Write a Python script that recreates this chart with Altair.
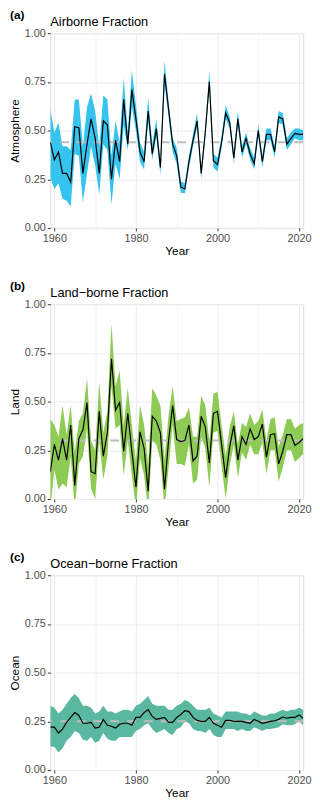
import altair as alt
import pandas as pd

years = list(range(1959, 2022))

air_mean = [0.44, 0.35, 0.39, 0.28, 0.28, 0.235, 0.52, 0.515, 0.28, 0.43,
            0.56, 0.46, 0.28, 0.55, 0.53, 0.25, 0.45, 0.34, 0.66, 0.43,
            0.71, 0.56, 0.39, 0.34, 0.60, 0.38, 0.51, 0.31, 0.79, 0.61,
            0.43, 0.37, 0.21, 0.20, 0.34, 0.45, 0.55, 0.28, 0.49, 0.75,
            0.345, 0.325, 0.44, 0.59, 0.54, 0.36, 0.56, 0.39, 0.46, 0.38,
            0.33, 0.50, 0.34, 0.48, 0.48, 0.39, 0.57, 0.56, 0.43, 0.46,
            0.485, 0.48, 0.48]
air_hi = [0.61, 0.49, 0.54, 0.42, 0.42, 0.40, 0.66, 0.66, 0.42, 0.62,
          0.69, 0.60, 0.42, 0.68, 0.66, 0.37, 0.55, 0.44, 0.77, 0.49,
          0.81, 0.63, 0.44, 0.39, 0.67, 0.43, 0.56, 0.34, 0.86, 0.65,
          0.46, 0.41, 0.24, 0.23, 0.37, 0.48, 0.59, 0.31, 0.52, 0.81,
          0.38, 0.36, 0.47, 0.63, 0.57, 0.39, 0.60, 0.42, 0.49, 0.41,
          0.36, 0.53, 0.37, 0.51, 0.51, 0.42, 0.60, 0.59, 0.46, 0.49,
          0.51, 0.51, 0.50]
air_lo = [0.26, 0.20, 0.23, 0.15, 0.14, 0.11, 0.38, 0.37, 0.13, 0.28,
          0.42, 0.32, 0.17, 0.43, 0.40, 0.12, 0.33, 0.25, 0.53, 0.40,
          0.62, 0.50, 0.34, 0.30, 0.55, 0.35, 0.47, 0.27, 0.74, 0.57,
          0.39, 0.33, 0.18, 0.18, 0.31, 0.42, 0.52, 0.25, 0.46, 0.72,
          0.31, 0.29, 0.41, 0.56, 0.51, 0.33, 0.53, 0.36, 0.43, 0.35,
          0.30, 0.47, 0.31, 0.45, 0.45, 0.36, 0.54, 0.53, 0.40, 0.43,
          0.46, 0.45, 0.45]

land_mean = [0.14, 0.28, 0.20, 0.31, 0.20, 0.38, 0.07, 0.31, 0.355, 0.495,
             0.14, 0.13, 0.45, 0.22, 0.34, 0.72, 0.456, 0.495, 0.245, 0.44,
             0.245, 0.06, 0.345, 0.26, 0.04, 0.425, 0.40, 0.34, 0.05, 0.30,
             0.48, 0.305, 0.295, 0.30, 0.38, 0.195, 0.22, 0.425, 0.37, 0.185,
             0.44, 0.45, 0.28, 0.11, 0.27, 0.375, 0.20, 0.32, 0.28, 0.36,
             0.305, 0.32, 0.385, 0.215, 0.33, 0.335, 0.18, 0.245, 0.33, 0.33,
             0.275, 0.29, 0.31]
land_hi = [0.41, 0.38, 0.32, 0.48, 0.33, 0.48, 0.24, 0.40, 0.44, 0.62,
           0.30, 0.25, 0.60, 0.34, 0.45, 0.90, 0.58, 0.66, 0.38, 0.57,
           0.38, 0.19, 0.48, 0.38, 0.18, 0.57, 0.53, 0.48, 0.20, 0.43,
           0.58, 0.40, 0.41, 0.42, 0.47, 0.32, 0.32, 0.53, 0.48, 0.30,
           0.54, 0.55, 0.38, 0.22, 0.37, 0.45, 0.28, 0.39, 0.37, 0.44,
           0.38, 0.40, 0.46, 0.30, 0.41, 0.42, 0.27, 0.33, 0.41, 0.41,
           0.36, 0.38, 0.39]
land_lo = [-0.05, 0.15, 0.05, 0.08, 0.06, 0.22, -0.05, 0.18, 0.22, 0.36,
           0.05, 0.00, 0.30, 0.10, 0.22, 0.58, 0.36, 0.38, 0.12, 0.30,
           0.12, -0.05, 0.21, 0.12, -0.06, 0.30, 0.28, 0.20, -0.05, 0.16,
           0.38, 0.18, 0.18, 0.17, 0.28, 0.08, 0.10, 0.32, 0.26, 0.06,
           0.34, 0.35, 0.17, 0.00, 0.17, 0.28, 0.11, 0.24, 0.20, 0.28,
           0.23, 0.23, 0.29, 0.13, 0.25, 0.25, 0.09, 0.16, 0.25, 0.25,
           0.19, 0.21, 0.23]

ocean_mean = [0.22, 0.22, 0.19, 0.21, 0.245, 0.27, 0.295, 0.28, 0.24, 0.24,
              0.245, 0.215, 0.22, 0.26, 0.23, 0.225, 0.215, 0.235, 0.24, 0.24,
              0.23, 0.27, 0.27, 0.295, 0.31, 0.275, 0.26, 0.265, 0.27, 0.245,
              0.245, 0.27, 0.285, 0.305, 0.30, 0.27, 0.255, 0.25, 0.25, 0.27,
              0.24, 0.23, 0.22, 0.255, 0.255, 0.25, 0.25, 0.25, 0.245, 0.24,
              0.26, 0.25, 0.24, 0.245, 0.25, 0.253, 0.26, 0.272, 0.266, 0.27,
              0.27, 0.283, 0.265]
ocean_hi = [0.33, 0.32, 0.29, 0.31, 0.34, 0.37, 0.39, 0.37, 0.33, 0.33,
            0.32, 0.29, 0.30, 0.33, 0.30, 0.30, 0.29, 0.30, 0.31, 0.31,
            0.30, 0.33, 0.34, 0.36, 0.38, 0.34, 0.33, 0.33, 0.33, 0.31,
            0.31, 0.33, 0.34, 0.36, 0.35, 0.33, 0.31, 0.31, 0.31, 0.32,
            0.29, 0.28, 0.27, 0.30, 0.30, 0.30, 0.30, 0.29, 0.29, 0.28,
            0.30, 0.29, 0.28, 0.28, 0.29, 0.29, 0.30, 0.31, 0.30, 0.31,
            0.31, 0.32, 0.31]
ocean_lo = [0.12, 0.12, 0.09, 0.11, 0.15, 0.17, 0.20, 0.19, 0.155, 0.15,
            0.17, 0.14, 0.15, 0.19, 0.16, 0.15, 0.15, 0.17, 0.17, 0.17,
            0.17, 0.20, 0.21, 0.23, 0.24, 0.21, 0.19, 0.20, 0.21, 0.19,
            0.18, 0.21, 0.22, 0.25, 0.24, 0.21, 0.20, 0.20, 0.19, 0.21,
            0.18, 0.17, 0.17, 0.21, 0.21, 0.21, 0.20, 0.21, 0.20, 0.20,
            0.22, 0.21, 0.20, 0.21, 0.21, 0.215, 0.22, 0.235, 0.23, 0.23,
            0.235, 0.25, 0.23]

avg_values = [0.44, 0.30, 0.25]
tags = ["(a)", "(b)", "(c)"]
titles = ["Airborne Fraction", "Land\u2212borne Fraction", "Ocean\u2212borne Fraction"]
ylabels = ["Atmosphere", "Land", "Ocean"]
fills = ["#35C3F0", "#8DCB55", "#5BB8A0"]

x_grid = [1960, 1970, 1980, 1990, 2000, 2010, 2020]
y_grid = [0, 0.125, 0.25, 0.375, 0.5, 0.625, 0.75, 0.875, 1.0]

FONT = "Liberation Sans"


def panel(tag, title, ylab, mean, lo, hi, avg, color):
    df = pd.DataFrame({"Year": years, "mean": mean, "lo": lo, "hi": hi})
    xs = alt.Scale(domain=[1959, 2021], nice=False, zero=False)
    ys = alt.Scale(domain=[0, 1], nice=False, zero=False)
    xaxis = alt.Axis(
        values=x_grid, format="d",
        labelExpr="datum.value % 20 === 0 ? datum.label : ''",
        tickOpacity=alt.condition("datum.value % 20 === 0", alt.value(1), alt.value(0)),
        gridWidth=alt.condition("datum.value % 20 === 0", alt.value(1), alt.value(0.5)),
        grid=True, domain=False, tickSize=3, tickColor="#333333",
        labelFontSize=11, labelColor="#4D4D4D", labelPadding=2, labelFont=FONT,
        titleFontSize=12, titleFontWeight="normal", titleColor="black", titleFont=FONT,
        titlePadding=2, gridColor="#EBEBEB", labelFlush=False,
    )
    yaxis = alt.Axis(
        values=y_grid,
        labelExpr="datum.value % 0.25 === 0 ? format(datum.value, '.2f') : ''",
        tickOpacity=alt.condition("datum.value % 0.25 === 0", alt.value(1), alt.value(0)),
        gridWidth=alt.condition("datum.value % 0.25 === 0", alt.value(1), alt.value(0.5)),
        grid=True, domain=False, tickSize=3, tickColor="#333333",
        labelFontSize=11, labelColor="#4D4D4D", labelPadding=2, labelFont=FONT,
        titleFontSize=12, titleFontWeight="normal", titleColor="black", titleFont=FONT,
        titlePadding=3, gridColor="#EBEBEB", labelFlush=False,
    )
    band = alt.Chart(df).mark_area(color=color, opacity=1, clip=True).encode(
        x=alt.X("Year:Q", scale=xs, axis=xaxis, title="Year"),
        y=alt.Y("lo:Q", scale=ys, axis=yaxis, title=ylab),
        y2="hi:Q",
    )
    avgline = alt.Chart(pd.DataFrame({"avg": [avg]})).mark_rule(
        color="#BDBDBD", strokeDash=[9, 8], strokeWidth=2
    ).encode(y=alt.Y("avg:Q", scale=ys, title=ylab))
    line = alt.Chart(df).mark_line(color="black", strokeWidth=1.2, clip=True).encode(
        x=alt.X("Year:Q", scale=xs, title="Year"),
        y=alt.Y("mean:Q", scale=ys, title=ylab),
    )
    tag_txt = alt.Chart(pd.DataFrame({"t": [tag]})).mark_text(
        align="left", baseline="top", fontWeight="bold", fontSize=12,
        font=FONT, color="black"
    ).encode(x=alt.value(-41), y=alt.value(-23), text="t:N")
    title_txt = alt.Chart(pd.DataFrame({"t": [title]})).mark_text(
        align="left", baseline="alphabetic", fontSize=13, font=FONT, color="black"
    ).encode(x=alt.value(0), y=alt.value(-7), text="t:N")
    return alt.layer(band, avgline, line, tag_txt, title_txt).properties(
        width=257, height=198
    )


charts = []
series = [(air_mean, air_lo, air_hi), (land_mean, land_lo, land_hi),
          (ocean_mean, ocean_lo, ocean_hi)]
for i in range(3):
    m, l, h = series[i]
    charts.append(panel(tags[i], titles[i], ylabels[i], m, l, h, avg_values[i], fills[i]))

chart = alt.vconcat(*charts, spacing=22.5).properties(
    padding={"left": 0, "top": -6, "right": 0, "bottom": 0}
).configure_view(stroke="#333333", strokeWidth=1.2).configure(background="white")

chart.save("out.html", embed_options={"renderer": "svg", "actions": False})
